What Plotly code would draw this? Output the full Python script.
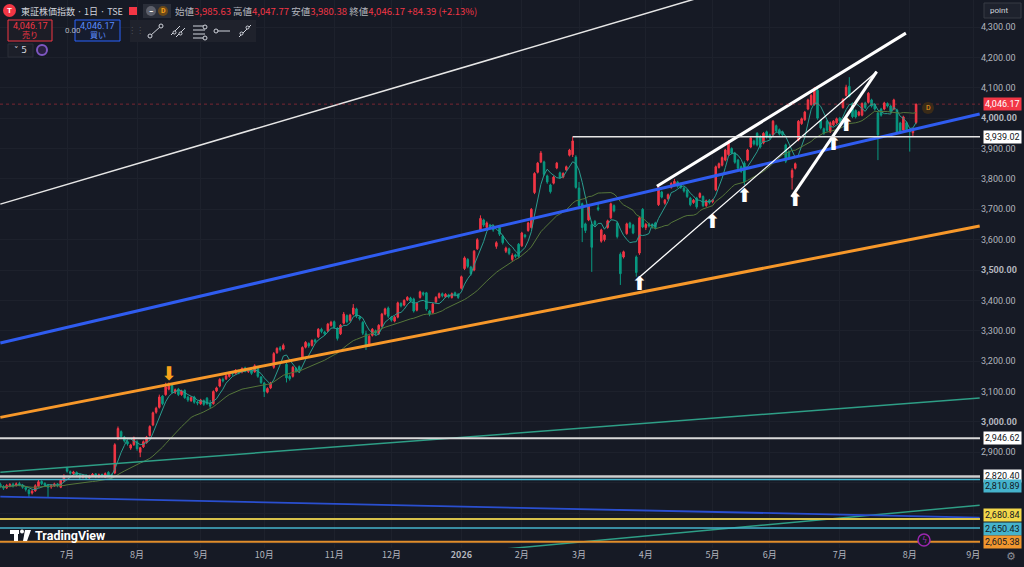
import pandas as pd
import plotly.graph_objects as go

# TOPIX 日足  2025-06-02 .. 2026-08-05
holidays = ['2025-07-21', '2025-08-11', '2025-09-15', '2025-09-23', '2025-10-13',
            '2025-11-03', '2025-11-24', '2025-12-31', '2026-01-01', '2026-01-02',
            '2026-01-12', '2026-02-11', '2026-02-23', '2026-03-20', '2026-04-29',
            '2026-05-04', '2026-05-05', '2026-05-06', '2026-07-20', '2026-08-11',
            '2026-09-21', '2026-09-22', '2026-09-23']
month_labels = ['7月', '8月', '9月', '10月', '11月', '12月', '<b>2026</b>', '2月', '3月',
                '4月', '5月', '6月', '7月', '8月', '9月']

open_ = [
    2795, 2787, 2783, 2790, 2795, 2792, 2797, 2792, 2784, 2776, 2766, 2773, 2788, 2804, 2798, 2792, 2786, 2790, 2796, 2785, 2806,
    2848, 2836, 2830, 2834, 2826, 2818, 2824, 2816, 2823, 2829, 2819, 2827, 2818, 2834, 2826, 2832, 2945, 2968, 2950, 2935, 2914, 2925,
    2935, 2900, 2918, 2932, 2955, 2990, 3032, 3048, 3085, 3090, 3108, 3120, 3098, 3108, 3090, 3104, 3082, 3070, 3082, 3066,
    3060, 3070, 3078, 3062, 3060, 3102, 3118, 3140, 3142, 3150, 3163, 3160, 3168, 3164, 3178, 3166, 3170, 3165, 3180, 3148,
    3128, 3098, 3112, 3180, 3228, 3244, 3240, 3190, 3150, 3150, 3176, 3182, 3212, 3246, 3258, 3252, 3270, 3280, 3305, 3296, 3300, 3318,
    3330, 3308, 3290, 3325, 3350, 3335, 3355, 3372, 3345, 3328, 3290, 3252, 3285, 3300, 3290, 3315, 3355, 3375,
    3345, 3332, 3345, 3390, 3385, 3402, 3408, 3405, 3368, 3410, 3425, 3425, 3365, 3360, 3395, 3410, 3422, 3412, 3418, 3410, 3425, 3420,
    3440, 3505, 3535, 3510, 3500, 3570, 3632, 3665, 3640, 3648, 3645, 3578, 3640, 3612, 3562, 3570, 3535, 3550, 3585,
    3580, 3615, 3630, 3640, 3755, 3822, 3856, 3856, 3810, 3780, 3786, 3836, 3820, 3806, 3830, 3878, 3880, 3872,
    3770, 3718, 3652, 3665, 3650, 3660, 3705, 3595, 3600, 3640, 3672, 3712, 3655, 3552, 3543, 3620, 3655, 3648, 3543, 3556, 3700,
    3640, 3652, 3650, 3655, 3715, 3757, 3720, 3735, 3772, 3780, 3790, 3784, 3770, 3763, 3737, 3722, 3737, 3740, 3742, 3712, 3730,
    3725, 3764, 3838, 3845, 3862, 3880, 3900, 3885, 3862, 3840, 3852, 3862, 3905, 3925, 3950, 3940, 3918, 3955,
    3945, 3945, 3975, 3962, 3955, 3912, 3890, 3805, 3835, 3928, 3982, 3995, 4030, 4045, 4045, 4092, 3992, 3965, 3990, 3955, 3978, 3985,
    4000, 4035, 4075, 4105, 4048, 4025, 4010, 4010, 4050, 4052, 4060, 4045, 4017, 4030, 4030, 4048, 4040, 4030, 4027, 3984, 3961, 3985,
    3962, 3952, 3985.63,
]
high = [
    2800, 2792, 2796, 2799, 2800, 2801, 2803, 2796, 2788, 2779, 2778, 2795, 2809, 2808, 2801, 2796, 2795, 2800, 2799, 2812, 2828,
    2852, 2840, 2839, 2837, 2829, 2827, 2828, 2826, 2832, 2831, 2830, 2830, 2834, 2838, 2830, 2930, 2985, 2972, 2954, 2940, 2928, 2952,
    2940, 2918, 2939, 2954, 2989, 3034, 3050, 3090, 3088, 3129, 3130, 3123, 3110, 3112, 3106, 3107, 3086, 3085, 3086, 3070,
    3076, 3074, 3082, 3072, 3104, 3116, 3144, 3146, 3156, 3166, 3167, 3174, 3172, 3180, 3182, 3176, 3174, 3190, 3183, 3151,
    3132, 3114, 3132, 3230, 3246, 3250, 3258, 3195, 3156, 3184, 3180, 3186, 3249, 3266, 3262, 3272, 3274, 3309, 3310, 3300, 3326, 3333,
    3334, 3312, 3322, 3362, 3354, 3356, 3388, 3376, 3350, 3332, 3300, 3286, 3309, 3304, 3322, 3359, 3376, 3380,
    3349, 3349, 3396, 3394, 3404, 3414, 3412, 3409, 3394, 3432, 3429, 3428, 3369, 3392, 3414, 3426, 3426, 3424, 3422, 3426, 3429, 3424,
    3482, 3545, 3539, 3514, 3566, 3605, 3680, 3669, 3660, 3652, 3649, 3595, 3644, 3616, 3577, 3574, 3555, 3554, 3589,
    3626, 3619, 3659, 3704, 3822, 3856, 3892, 3860, 3814, 3784, 3810, 3856, 3824, 3822, 3844, 3899, 3939.02, 3878,
    3790, 3722, 3656, 3716, 3660, 3665, 3722, 3636, 3619, 3666, 3722, 3716, 3659, 3558, 3564, 3656, 3659, 3652, 3548, 3675, 3704,
    3655, 3656, 3654, 3659, 3778, 3761, 3734, 3752, 3789, 3800, 3794, 3788, 3774, 3767, 3741, 3734, 3741, 3756, 3746, 3732, 3734,
    3734, 3844, 3854, 3874, 3899, 3928, 3904, 3889, 3866, 3844, 3858, 3899, 3939, 3929, 3954, 3944, 3954, 3959,
    3949, 3994, 3979, 3966, 3959, 3916, 3894, 3835, 3854, 3994, 4002, 4024, 4064, 4079, 4102, 4096, 3996, 3969, 3994, 3989, 3994, 4002,
    4004, 4066, 4110, 4135, 4052, 4029, 4024, 4052, 4054, 4086, 4064, 4049, 4022, 4034, 4054, 4052, 4044, 4064, 4031, 3988, 4008, 3989,
    3966, 3968, 4047.77,
]
low = [
    2783, 2776, 2779, 2785, 2784, 2787, 2788, 2780, 2771, 2750, 2761, 2770, 2784, 2792, 2786, 2753, 2780, 2786, 2785, 2782, 2803,
    2833, 2826, 2825, 2821, 2812, 2814, 2811, 2813, 2819, 2815, 2816, 2817, 2815, 2821, 2814, 2828, 2940, 2948, 2932, 2922, 2908, 2921,
    2905, 2884, 2914, 2928, 2952, 2986, 3027, 3044, 3055, 3086, 3104, 3094, 3092, 3085, 3086, 3076, 3066, 3066, 3060, 3055,
    3056, 3053, 3056, 3045, 3057, 3098, 3114, 3130, 3138, 3146, 3152, 3156, 3157, 3160, 3163, 3161, 3155, 3162, 3145, 3125,
    3082, 3094, 3108, 3175, 3224, 3232, 3236, 3130, 3136, 3146, 3162, 3166, 3208, 3242, 3244, 3248, 3258, 3276, 3292, 3284, 3296, 3314,
    3306, 3268, 3286, 3321, 3325, 3330, 3351, 3342, 3334, 3286, 3237, 3248, 3281, 3286, 3286, 3311, 3351, 3342,
    3330, 3328, 3341, 3377, 3381, 3398, 3393, 3360, 3364, 3406, 3414, 3366, 3348, 3356, 3391, 3406, 3410, 3408, 3407, 3406, 3413, 3405,
    3436, 3500, 3506, 3482, 3496, 3566, 3628, 3642, 3636, 3636, 3626, 3570, 3612, 3584, 3556, 3549, 3528, 3539, 3540,
    3576, 3604, 3626, 3636, 3750, 3818, 3852, 3810, 3784, 3752, 3782, 3832, 3800, 3802, 3826, 3874, 3872, 3768,
    3700, 3592, 3622, 3661, 3494, 3644, 3694, 3590, 3594, 3636, 3668, 3690, 3604, 3451, 3538, 3616, 3636, 3618, 3478, 3550, 3638,
    3632, 3640, 3636, 3634, 3711, 3736, 3715, 3731, 3768, 3776, 3771, 3767, 3755, 3737, 3710, 3718, 3702, 3736, 3707, 3708, 3716,
    3720, 3760, 3834, 3841, 3858, 3876, 3880, 3850, 3830, 3820, 3780, 3858, 3901, 3910, 3907, 3900, 3914, 3933,
    3930, 3941, 3953, 3943, 3940, 3852, 3865, 3765, 3831, 3924, 3978, 3991, 4026, 4041, 4041, 3995, 3963, 3945, 3955, 3951, 3974, 3981,
    3985, 4031, 4071, 4068, 4000, 3999, 4006, 4006, 4030, 4048, 4035, 4025, 3862, 4005, 4026, 4035, 4017, 4026, 3949, 3951, 3957, 3957,
    3890, 3940, 3980.38,
]
close = [
    2788, 2782, 2791, 2794, 2790, 2796, 2793, 2785, 2778, 2764, 2772, 2790, 2803, 2797, 2792, 2785, 2790, 2796, 2792, 2808, 2820,
    2838, 2831, 2835, 2826, 2818, 2823, 2816, 2822, 2828, 2820, 2826, 2821, 2830, 2825, 2819, 2925, 2978, 2952, 2938, 2928, 2924, 2948,
    2912, 2915, 2935, 2950, 2985, 3030, 3045, 3082, 3060, 3115, 3118, 3098, 3106, 3090, 3102, 3080, 3072, 3080, 3065, 3062,
    3072, 3058, 3060, 3052, 3100, 3112, 3140, 3135, 3152, 3162, 3158, 3170, 3162, 3176, 3168, 3172, 3160, 3185, 3150, 3130,
    3100, 3110, 3128, 3225, 3242, 3238, 3252, 3145, 3142, 3180, 3168, 3172, 3245, 3262, 3250, 3268, 3264, 3305, 3298, 3290, 3322, 3328,
    3312, 3275, 3318, 3355, 3330, 3352, 3375, 3348, 3340, 3292, 3250, 3282, 3305, 3292, 3318, 3355, 3372, 3348,
    3335, 3345, 3392, 3382, 3400, 3410, 3398, 3365, 3390, 3428, 3420, 3372, 3355, 3388, 3410, 3422, 3415, 3420, 3412, 3422, 3418, 3410,
    3478, 3540, 3512, 3488, 3562, 3600, 3670, 3648, 3655, 3642, 3632, 3590, 3618, 3590, 3572, 3555, 3548, 3545, 3545,
    3622, 3610, 3655, 3700, 3818, 3852, 3885, 3815, 3790, 3758, 3806, 3852, 3805, 3818, 3840, 3895, 3925, 3772,
    3712, 3640, 3630, 3712, 3575, 3650, 3700, 3632, 3615, 3662, 3718, 3695, 3610, 3488, 3560, 3652, 3640, 3622, 3492, 3672, 3642,
    3650, 3645, 3642, 3640, 3772, 3740, 3730, 3748, 3785, 3792, 3776, 3772, 3760, 3742, 3715, 3730, 3708, 3752, 3712, 3728, 3722,
    3730, 3840, 3850, 3870, 3895, 3920, 3885, 3855, 3835, 3825, 3790, 3895, 3935, 3915, 3912, 3905, 3950, 3938,
    3935, 3990, 3958, 3948, 3945, 3858, 3870, 3828, 3850, 3990, 3998, 4020, 4060, 4075, 4092, 4000, 3968, 3950, 3960, 3985, 3990, 3998,
    3990, 4062, 4102, 4072, 4005, 4004, 4020, 4048, 4035, 4082, 4040, 4030, 3945, 4010, 4050, 4040, 4022, 4060, 3954, 3956, 4004, 3962,
    3955, 3961.78, 4046.17,
]

# drawings: endpoints as (bar index, price)
channel_top_x, channel_top_y = [0, 240], [3717, 4459]
blue_x, blue_y = [0, 308], [3260, 4014]
orange_x, orange_y = [0, 308], [3015, 3645]
teal_hi_x, teal_hi_y = [0, 308], [2834, 3079]
teal_lo_x, teal_lo_y = [158, 308], [2581, 2726]
navy_x, navy_y = [0, 308], [2754, 2685]
wedge_top_x, wedge_top_y = [206.5, 284.8], [3776, 4280]
wedge_low_x, wedge_low_y = [200.7, 275.6], [3474, 4153]
wedge_steep_x, wedge_steep_y = [248.9, 275.6], [3741, 4153]

peak_bar = 180
peak_level = 3939.02
levels = [2946.62, 2820.40, 2810.89, 2680.84, 2650.43, 2605.38]

up_arrow_x = [201, 224, 234, 250, 262, 266]
up_arrow_y = [3451, 3654, 3739, 3725, 3912, 3972]
down_arrow_x = [53]
down_arrow_y = [3154]

assert len(open_) == len(high) == len(low) == len(close) == 289

days = pd.bdate_range('2025-06-02', '2026-09-30')
days = days[~days.isin(pd.to_datetime(holidays))]
bars = list(range(len(close)))
month_start = [i for i in range(1, len(days)) if days[i].month != days[i - 1].month]

s = pd.Series(close)
ma5 = s.rolling(5, min_periods=1).mean()
ma25 = s.rolling(25, min_periods=1).mean()

BG = '#161a25'
GRID = '#1d212c'
RED = '#f23645'
GREEN = '#089981'
TXT = '#b2b5be'
JP = 'Noto Sans CJK JP'


def px(x):
    return x / 980


def py(y):
    return (548 - y) / 548


fig = go.Figure()

fig.add_trace(go.Candlestick(
    x=bars, open=open_, high=high, low=low, close=close,
    increasing=dict(line=dict(color=RED, width=1), fillcolor=RED),
    decreasing=dict(line=dict(color=GREEN, width=1), fillcolor=GREEN),
    whiskerwidth=0, hoverinfo='skip'))
fig.add_trace(go.Scatter(x=bars, y=ma5, mode='lines', line=dict(color='#2a9d8f', width=1), hoverinfo='skip'))
fig.add_trace(go.Scatter(x=bars, y=ma25, mode='lines', line=dict(color='#55763a', width=1), hoverinfo='skip'))

trend = [
    (channel_top_x, channel_top_y, '#e6e6e6', 1.5),
    (blue_x, blue_y, '#2f5cf0', 3),
    (orange_x, orange_y, '#f7982a', 3),
    (teal_hi_x, teal_hi_y, '#2e9e86', 1.5),
    (teal_lo_x, teal_lo_y, '#2e9e86', 1.5),
    (navy_x, navy_y, '#2a4fd0', 1.8),
    (wedge_top_x, wedge_top_y, '#ffffff', 3),
    (wedge_low_x, wedge_low_y, '#ffffff', 1.3),
    (wedge_steep_x, wedge_steep_y, '#ffffff', 3),
]
for tx, ty, col, w in trend:
    fig.add_trace(go.Scatter(x=tx, y=ty, mode='lines', line=dict(color=col, width=w), hoverinfo='skip'))

fig.add_trace(go.Scatter(x=up_arrow_x, y=up_arrow_y, mode='text', text=['⬆'] * len(up_arrow_x),
                         textfont=dict(size=19, color='#ffffff', family='DejaVu Sans'), hoverinfo='skip'))
fig.add_trace(go.Scatter(x=down_arrow_x, y=down_arrow_y, mode='text', text=['⬇'] * len(down_arrow_x),
                         textfont=dict(size=19, color='#f7a21b', family='DejaVu Sans'), hoverinfo='skip'))

shapes = []
level_style = ['#d9d9d9', '#cfcfcf', '#45b3cc', '#d8c24a', '#45b3cc', '#e08d2b']
level_width = [2, 2.5, 1.5, 2, 1.5, 2]
for lv, col, w in zip(levels, level_style, level_width):
    shapes.append(dict(type='line', xref='paper', x0=0, x1=1, yref='y', y0=lv, y1=lv,
                       line=dict(color=col, width=w)))
shapes.append(dict(type='line', xref='x', x0=peak_bar, x1=320, yref='y', y0=peak_level, y1=peak_level,
                   line=dict(color='#e6e6e6', width=1.5)))
shapes.append(dict(type='line', xref='paper', x0=0, x1=1, yref='y', y0=close[-1], y1=close[-1],
                   line=dict(color='rgba(242,54,69,0.45)', width=1, dash='dot')))


def rect(x0, y0, x1, y1, fill, line=None, lw=1):
    shapes.append(dict(type='rect', xref='paper', yref='paper', x0=px(x0), x1=px(x1), y0=py(y1), y1=py(y0),
                       fillcolor=fill, line=dict(color=line or fill, width=lw if line else 0), layer='above'))


def circ(x0, y0, x1, y1, fill, line=None, lw=1):
    shapes.append(dict(type='circle', xref='paper', yref='paper', x0=px(x0), x1=px(x1), y0=py(y1), y1=py(y0),
                       fillcolor=fill, line=dict(color=line or fill, width=lw if line else 0), layer='above'))


def seg(x0, y0, x1, y1, col='#d1d4dc', w=1):
    shapes.append(dict(type='line', xref='paper', yref='paper', x0=px(x0), x1=px(x1), y0=py(y0), y1=py(y1),
                       line=dict(color=col, width=w), layer='above'))


ann = []


def text(x, y, t, size=9, color=TXT, anchor='left', family=None, bg=None):
    d = dict(xref='paper', yref='paper', x=px(x), y=py(y), text=t, showarrow=False, xanchor=anchor,
             yanchor='middle', font=dict(size=size, color=color, family=family or 'Roboto, ' + JP))
    if bg:
        d['bgcolor'] = bg
    ann.append(d)


# header
circ(3, 4, 16, 17, RED)
text(9.5, 10.5, '<b>T</b>', 8, '#ffffff', 'center')
text(19, 11, '東証株価指数 · 1日 · TSE', 9, '#d1d4dc', family=JP)
rect(129, 7, 137, 15, RED)
rect(143, 4, 171, 18, '#2a2e39')
circ(146, 6, 156, 16, '#5d606b')
text(151, 11, '<b>−</b>', 8, '#ffffff', 'center')
circ(158, 6, 168, 16, '#6b4a1a')
text(163, 11, '<b>D</b>', 7, '#f7a21b', 'center')
chg = close[-1] - close[-2]
pct = chg / close[-2] * 100
r = "<span style='color:%s'>%s</span>"
ohlc = ('始値' + r % (RED, f'{open_[-1]:,.2f}') + ' 高値' + r % (RED, f'{high[-1]:,.2f}') +
        ' 安値' + r % (RED, f'{low[-1]:,.2f}') + ' 終値' + r % (RED, f'{close[-1]:,.2f}') +
        ' ' + r % (RED, f'+{chg:,.2f} (+{pct:.2f}%)'))
text(173, 11, ohlc, 9.5, TXT, family=JP)

rect(8, 20, 52, 41, '#1c1d26', RED)
text(30, 26, f'{close[-1]:,.2f}', 9, RED, 'center')
text(30, 35, '売り', 8, RED, 'center', JP)
text(63, 31, '0.00', 8, TXT)
rect(75, 20, 120, 41, '#161c2e', '#2962ff')
text(97.5, 26, f'{close[-1]:,.2f}', 9, '#5b8cff', 'center')
text(97.5, 35, '買い', 8, '#5b8cff', 'center', JP)

rect(130, 20, 256, 42, '#1f222c')
text(136, 31, '⋮⋮', 8, '#50535e', 'center', 'DejaVu Sans')
seg(150, 36, 161, 26)
circ(148, 34, 152, 38, '#1f222c', '#d1d4dc')
circ(159, 24, 163, 28, '#1f222c', '#d1d4dc')
seg(171, 35, 180, 26)
seg(176, 37, 185, 28)
circ(173, 31, 176, 34, '#1f222c', '#d1d4dc')
circ(179, 32, 182, 35, '#1f222c', '#d1d4dc')
for yy in (26, 30, 34, 38):
    seg(193, yy, 205, yy)
circ(203, 25, 207, 29, '#1f222c', '#d1d4dc')
circ(203, 36, 207, 40, '#1f222c', '#d1d4dc')
seg(216, 31, 230, 31)
circ(214, 29, 218, 33, '#1f222c', '#d1d4dc')
seg(239, 37, 251, 25)
circ(240, 32, 243, 35, '#1f222c', '#d1d4dc')
circ(246, 26, 249, 29, '#1f222c', '#d1d4dc')

rect(8, 44, 33, 57, '#1c1f29', '#2a2e39')
text(20.5, 50.5, '˅ 5', 9, '#d1d4dc', 'center', 'DejaVu Sans')
circ(37, 45, 47, 55, '#2a2140', '#7e57c2', 2)

rect(984, 3, 1021, 18, '#1e222d', '#363a45')
text(988, 10.5, 'point', 8, '#d1d4dc')

# event badges
circ(922, 102, 934, 114, '#3a2b18')
text(928, 108, 'D', 7, '#f7a21b', 'center')
circ(918, 534, 930, 546, BG, '#9c27b0', 1.5)
text(924, 540, 'ϟ', 8, '#9c27b0', 'center', 'DejaVu Sans')
text(1011, 556, '⚙', 11, '#8a8d96', 'center', 'DejaVu Sans')

# TradingView watermark
rect(10, 530, 19, 534, '#ffffff')
rect(14, 530, 18, 541, '#ffffff')
circ(20, 529.5, 24, 533.5, '#ffffff')
shapes.append(dict(type='path', xref='paper', yref='paper', fillcolor='#ffffff', line=dict(width=0),
                   path=f'M {px(25)},{py(530)} L {px(31)},{py(530)} L {px(27)},{py(541)} L {px(23)},{py(541)} Z'))
text(33, 535.5, '<b>TradingView</b>', 12.5, '#ffffff', family='Roboto')

# price labels on the scale
price_tags = [
    (close[-1], RED, '#ffffff', 0),
    (peak_level, '#ffffff', '#131722', 0),
    (levels[0], '#ffffff', '#131722', 0),
    (levels[1], '#ffffff', '#131722', 0),
    (levels[2], '#45b3cc', '#131722', -7),
    (levels[3], '#f2d84b', '#131722', 4),
    (levels[4], '#45b3cc', '#131722', -1),
    (levels[5], '#f0962e', '#131722', 0),
]
for val, bg, fg, shift in price_tags:
    ann.append(dict(xref='paper', yref='y', x=px(983), y=val, yshift=shift, text=f'{val:,.2f}',
                    showarrow=False, xanchor='left', yanchor='middle', bgcolor=bg, borderpad=1,
                    font=dict(size=9, color=fg, family='Roboto')))

yt = list(range(2600, 4400, 100))
hidden = (2600, 2700, 2800)   # covered by the level tags
yl = ['' if v in hidden else (f'<b>{v:,.2f}</b>' if v % 500 == 0 else f'{v:,.2f}') for v in yt]

fig.update_layout(
    width=1024, height=567, margin=dict(l=0, r=44, t=0, b=19),
    paper_bgcolor=BG, plot_bgcolor=BG, showlegend=False, hovermode=False,
    font=dict(family='Roboto, ' + JP, color=TXT),
    shapes=shapes, annotations=ann,
    xaxis=dict(range=[-0.1, 308.1], tickvals=month_start, ticktext=month_labels,
               showgrid=True, gridcolor=GRID, zeroline=False, showline=False, ticks='',
               tickfont=dict(size=9, color=TXT, family=JP), rangeslider=dict(visible=False)),
    yaxis=dict(range=[2585, 4389], side='right', tickvals=yt, ticktext=yl,
               showgrid=True, gridcolor=GRID, zeroline=False, showline=False, ticks='',
               tickfont=dict(size=9, color=TXT, family='Roboto')),
)

fig.write_html('out.html', config={'displayModeBar': False},
               post_script="document.body.style.margin='0';document.body.style.overflow='hidden';")
